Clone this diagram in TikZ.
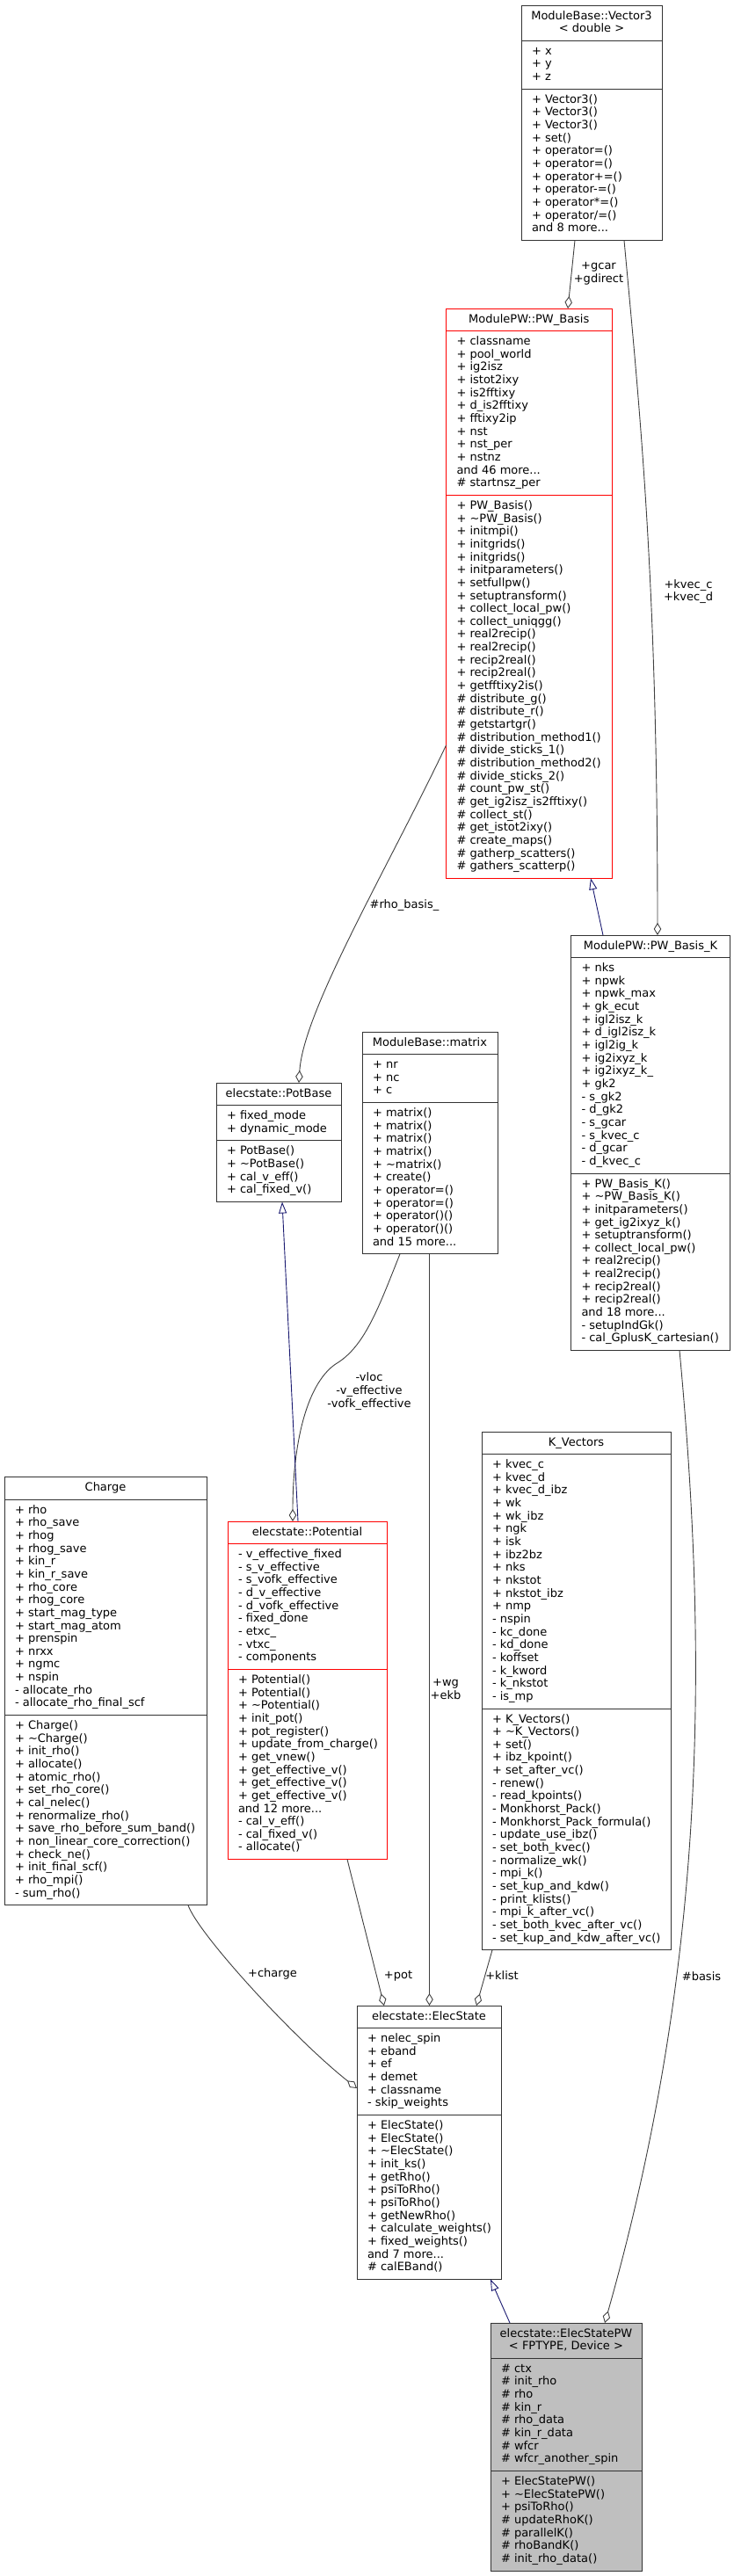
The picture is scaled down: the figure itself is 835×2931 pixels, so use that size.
\documentclass[tikz,border=0pt]{standalone}
\usepackage{fontspec}
\setmainfont{DejaVu Sans}
\usetikzlibrary{arrows.meta,calc}
\definecolor{midblue}{RGB}{25,25,112}
\definecolor{shade}{RGB}{191,191,191}
\newcount\lncount
\newcommand\mdots{...}
\newcommand\countitems[1]{\global\lncount=0\relax\foreach \cntx in {#1}{\global\advance\lncount by 1\relax}}
\tikzset{
  umltxt/.style={font=\fontsize{13}{14.65}\selectfont, inner sep=0pt, outer sep=0pt, text=black},
  lbl/.style={font=\fontsize{13}{14.65}\selectfont, align=center, inner sep=0pt, text=black},
  cls/.style={draw=black!80, fill=white, line width=1pt, inner sep=0pt, outer sep=0pt, anchor=north west},
  cls-sep/.style={draw=black!80, line width=1pt},
  clsred/.style={draw=red, fill=white, line width=1pt, inner sep=0pt, outer sep=0pt, anchor=north west},
  clsred-sep/.style={draw=red, line width=1pt},
  clsgray/.style={draw=black!80, fill=shade, line width=1pt, inner sep=0pt, outer sep=0pt, anchor=north west},
  clsgray-sep/.style={draw=black!80, line width=1pt},
  agg/.style={draw=black!75, line width=0.9pt, -{Diamond[open,length=14pt,width=8.5pt]}},
  inh/.style={draw=midblue, line width=0.9pt, -{Triangle[open,length=13pt,width=9pt]}}
}
% #1 name, #2 style, #3 x, #4 y top, #5 width, #6 header, #7 attributes, #8 methods
\newcommand\umlclass[8]{%
  \countitems{#6}\pgfmathsetmacro\umlhh{\the\lncount*14.65+11}%
  \countitems{#7}\pgfmathsetmacro\umlha{\the\lncount*14.65+11}%
  \countitems{#8}\pgfmathsetmacro\umlhm{\the\lncount*14.65+11}%
  \pgfmathsetmacro\umlht{\umlhh+\umlha+\umlhm}%
  \pgfmathsetmacro\umlsa{#4+\umlhh}%
  \pgfmathsetmacro\umlsb{#4+\umlhh+\umlha}%
  \node[#2, minimum width=#5pt, minimum height=\umlht pt] (#1) at (#3,#4) {};
  \draw[#2-sep] (#3,\umlsa) -- ++(#5,0);
  \draw[#2-sep] (#3,\umlsb) -- ++(#5,0);
  \foreach \umlitem [count=\i] in {#6} {\node[umltxt, anchor=base] (#1-h\i) at ({#3+#5/2},{#4+16+(\i-1)*14.65}) {\umlitem};}
  \foreach \umlitem [count=\i] in {#7} {\node[umltxt, anchor=base west] (#1-a\i) at ({#3+12},{\umlsa+16+(\i-1)*14.65}) {\umlitem};}
  \foreach \umlitem [count=\i] in {#8} {\node[umltxt, anchor=base west] (#1-m\i) at ({#3+12},{\umlsb+16+(\i-1)*14.65}) {\umlitem};}
}
\begin{document}
\begin{tikzpicture}[x=1pt,y=-1pt]
\fill[white] (0,0) rectangle (835,2931);
\useasboundingbox (0,0) rectangle (835,2931);

\umlclass{v3}{cls}{593}{6}{160}
 {ModuleBase::Vector3, < double >}
 {+ x, + y, + z}
 {+ Vector3(), + Vector3(), + Vector3(), + set(), + operator=(), + operator=(), + operator+=(), + operator-=(), + operator*=(), + operator/=(), and 8 more\mdots}

\umlclass{pwb}{clsred}{507.5}{351}{188.5}
 {ModulePW::PW\_Basis}
 {+ classname, + pool\_world, + ig2isz, + istot2ixy, + is2fftixy, + d\_is2fftixy, + fftixy2ip, + nst, + nst\_per, + nstnz, and 46 more\mdots, \# startnsz\_per}
 {+ PW\_Basis(), + \textasciitilde PW\_Basis(), + initmpi(), + initgrids(), + initgrids(), + initparameters(), + setfullpw(), + setuptransform(), + collect\_local\_pw(), + collect\_uniqgg(), + real2recip(), + real2recip(), + recip2real(), + recip2real(), + getfftixy2is(), \# distribute\_g(), \# distribute\_r(), \# getstartgr(), \# distribution\_method1(), \# divide\_sticks\_1(), \# distribution\_method2(), \# divide\_sticks\_2(), \# count\_pw\_st(), \# get\_ig2isz\_is2fftixy(), \# collect\_st(), \# get\_istot2ixy(), \# create\_maps(), \# gatherp\_scatters(), \# gathers\_scatterp()}

\umlclass{pwbk}{cls}{649.5}{1064}{181}
 {ModulePW::PW\_Basis\_K}
 {+ nks, + npwk, + npwk\_max, + gk\_ecut, + igl2isz\_k, + d\_igl2isz\_k, + igl2ig\_k, + ig2ixyz\_k, + ig2ixyz\_k\_, + gk2, - s\_gk2, - d\_gk2, - s\_gcar, - s\_kvec\_c, - d\_gcar, - d\_kvec\_c}
 {+ PW\_Basis\_K(), + \textasciitilde PW\_Basis\_K(), + initparameters(), + get\_ig2ixyz\_k(), + setuptransform(), + collect\_local\_pw(), + real2recip(), + real2recip(), + recip2real(), + recip2real(), and 18 more\mdots, - setupIndGk(), - cal\_GplusK\_cartesian()}

\umlclass{mat}{cls}{412}{1174}{154}
 {ModuleBase::matrix}
 {+ nr, + nc, + c}
 {+ matrix(), + matrix(), + matrix(), + matrix(), + \textasciitilde matrix(), + create(), + operator=(), + operator=(), + operator()(), + operator()(), and 15 more\mdots}

\umlclass{potb}{cls}{246}{1232}{142}
 {elecstate::PotBase}
 {+ fixed\_mode, + dynamic\_mode}
 {+ PotBase(), + \textasciitilde PotBase(), + cal\_v\_eff(), + cal\_fixed\_v()}

\umlclass{pot}{clsred}{259}{1731}{181}
 {elecstate::Potential}
 {- v\_effective\_fixed, - s\_v\_effective, - s\_vofk\_effective, - d\_v\_effective, - d\_vofk\_effective, - fixed\_done, - etxc\_, - vtxc\_, - components}
 {+ Potential(), + Potential(), + \textasciitilde Potential(), + init\_pot(), + pot\_register(), + update\_from\_charge(), + get\_vnew(), + get\_effective\_v(), + get\_effective\_v(), + get\_effective\_v(), and 12 more\mdots, - cal\_v\_eff(), - cal\_fixed\_v(), - allocate()}

\umlclass{chg}{cls}{5}{1680.5}{230}
 {Charge}
 {+ rho, + rho\_save, + rhog, + rhog\_save, + kin\_r, + kin\_r\_save, + rho\_core, + rhog\_core, + start\_mag\_type, + start\_mag\_atom, + prenspin, + nrxx, + ngmc, + nspin, - allocate\_rho, - allocate\_rho\_final\_scf}
 {+ Charge(), + \textasciitilde Charge(), + init\_rho(), + allocate(), + atomic\_rho(), + set\_rho\_core(), + cal\_nelec(), + renormalize\_rho(), + save\_rho\_before\_sum\_band(), + non\_linear\_core\_correction(), + check\_ne(), + init\_final\_scf(), + rho\_mpi(), - sum\_rho()}

\umlclass{kv}{cls}{548}{1629}{215}
 {K\_Vectors}
 {+ kvec\_c, + kvec\_d, + kvec\_d\_ibz, + wk, + wk\_ibz, + ngk, + isk, + ibz2bz, + nks, + nkstot, + nkstot\_ibz, + nmp, - nspin, - kc\_done, - kd\_done, - koffset, - k\_kword, - k\_nkstot, - is\_mp}
 {+ K\_Vectors(), + \textasciitilde K\_Vectors(), + set(), + ibz\_kpoint(), + set\_after\_vc(), - renew(), - read\_kpoints(), - Monkhorst\_Pack(), - Monkhorst\_Pack\_formula(), - update\_use\_ibz(), - set\_both\_kvec(), - normalize\_wk(), - mpi\_k(), - set\_kup\_and\_kdw(), - print\_klists(), - mpi\_k\_after\_vc(), - set\_both\_kvec\_after\_vc(), - set\_kup\_and\_kdw\_after\_vc()}

\umlclass{es}{cls}{406}{2282}{164}
 {elecstate::ElecState}
 {+ nelec\_spin, + eband, + ef, + demet, + classname, - skip\_weights}
 {+ ElecState(), + ElecState(), + \textasciitilde ElecState(), + init\_ks(), + getRho(), + psiToRho(), + psiToRho(), + getNewRho(), + calculate\_weights(), + fixed\_weights(), and 7 more\mdots, \# calEBand()}

\umlclass{espw}{clsgray}{558}{2643}{172}
 {elecstate::ElecStatePW, {< FPTYPE, Device >}}
 {\# ctx, \# init\_rho, \# rho, \# kin\_r, \# rho\_data, \# kin\_r\_data, \# wfcr, \# wfcr\_another\_spin}
 {+ ElecStatePW(), + \textasciitilde ElecStatePW(), + psiToRho(), \# updateRhoK(), \# parallelK(), \# rhoBandK(), \# init\_rho\_data()}

% connectors
\draw[agg] ([xshift=61pt]v3.south west) -- ([xshift=138.5pt]pwb.north west);
\draw[agg] ([xshift=117pt]v3.south west) .. controls (728,470) and (748,660) .. ([xshift=98.5pt]pwbk.north west);
\draw[inh] ([xshift=36.5pt]pwbk.north west) -- ([xshift=164.5pt]pwb.south west);
\draw[agg] ([yshift=-497pt]pwb.north west) .. controls (440,990) and (345,1150) .. ([xshift=94pt]potb.north west);
\draw[agg] ([xshift=43pt]mat.south west) .. controls (430,1490) and (415,1530) .. (385,1550) .. controls (350,1570) and (333,1640) .. ([xshift=74pt]pot.north west);
\draw[agg] ([xshift=76.5pt]mat.south west) -- ([xshift=82.5pt]es.north west);
\draw[inh] ([xshift=80pt]pot.north west) -- ([xshift=75pt]potb.south west);
\draw[agg] ([xshift=209pt]chg.south west) .. controls (225,2200) and (335,2320) .. ([yshift=-94pt]es.north west);
\draw[agg] ([xshift=136pt]pot.south west) -- ([xshift=31pt]es.north west);
\draw[agg] ([xshift=12pt]kv.south west) -- ([xshift=136pt]es.north west);
\draw[agg] ([xshift=123.5pt]pwbk.south west) .. controls (805,1880) and (805,2230) .. ([xshift=130pt]espw.north west);
\draw[inh] ([xshift=22pt]espw.north west) -- ([xshift=152pt]es.south west);

% connector labels
\node[lbl] (lgcar) at (681,311) {+gcar\\+gdirect};
\node[lbl] (lkvec) at (783,673) {+kvec\_c\\+kvec\_d};
\node[lbl] (lrho) at (460,1030) {\#rho\_basis\_};
\node[lbl] (lvloc) at (420,1583) {-vloc\\-v\_effective\\-vofk\_effective};
\node[lbl] (lwg) at (507,1922) {+wg\\+ekb};
\node[lbl] (lchg) at (310,2246) {+charge};
\node[lbl] (lpot) at (453,2248) {+pot};
\node[lbl] (lklist) at (571,2248) {+klist};
\node[lbl] (lbasis) at (798,2249) {\#basis};
\end{tikzpicture}
\end{document}
